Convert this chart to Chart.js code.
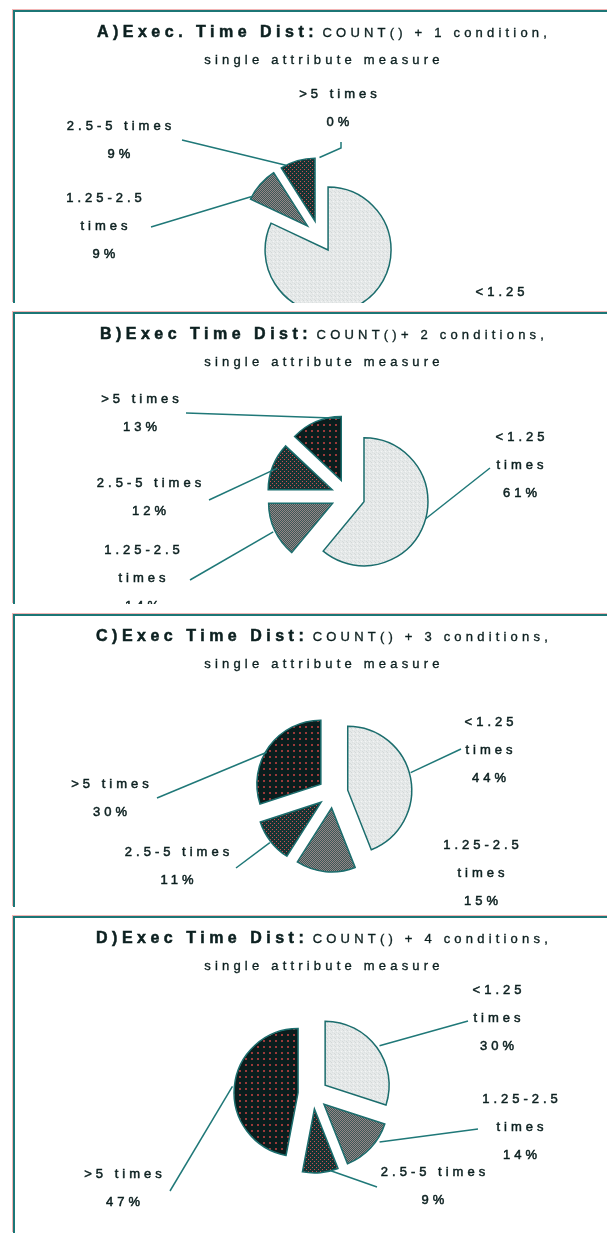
<!DOCTYPE html>
<html>
<head>
<meta charset="utf-8">
<title>Exec Time Dist</title>
<script src="https://cdn.jsdelivr.net/npm/chart.js@4.4.1/dist/chart.umd.min.js"></script>
<style>
  html, body { margin: 0; padding: 0; background: #fff; }
  body { width: 607px; height: 1233px; overflow: hidden; position: relative;
         font-family: "Liberation Sans", Arial, sans-serif; color: #0c2020; }
  .panel { position: absolute; left: 13px; width: 620px; box-sizing: border-box;
           border-top: 2px solid #1c7676; border-left: 2px solid #1c7676;
           box-shadow: -1px -1px 0 #f2b4b4; overflow: hidden; background: #fff; }
  .panel canvas { position: absolute; left: 0; top: 0; }
  .t1 { position: absolute; left: 0; right: 0; top: 10px; line-height: 20px; text-align: center; white-space: nowrap; }
  .t1 b { font-size: 16px; letter-spacing: 4.5px; -webkit-text-stroke: 0.5px #0c2020; }
  .t1 span { font-size: 13px; letter-spacing: 4.2px; -webkit-text-stroke: 0.35px #0c2020; }
  .t2 { position: absolute; left: 0; right: 0; top: 39px; line-height: 18px; font-size: 13px;
        letter-spacing: 4.2px; text-align: center; white-space: nowrap; -webkit-text-stroke: 0.35px #0c2020; }
</style>
</head>
<body>
<script>
// data
const categories = ['<1.25 times', '1.25-2.5 times', '2.5-5 times', '>5 times'];
const shareA = [82, 9, 9, 0];
const shareB = [61, 14, 12, 13];
const shareC = [44, 15, 11, 30];
const shareD = [30, 14, 9, 47];
const headings = ['A)Exec. Time Dist:', 'B)Exec Time Dist:', 'C)Exec Time Dist:', 'D)Exec Time Dist:'];
const queries = ['COUNT() + 1 condition,', 'COUNT()+ 2 conditions,', 'COUNT() + 3 conditions,', 'COUNT() + 4 conditions,'];
const subtitle = 'single attribute measure';

// layout (page coordinates)
const panels = [
  { values: shareA, top: 10, height: 293, cx: 319.5, cy: 236.5, r: 63, explode: 16, labels: [
    { slice: 0, wrap: true, x: 500, y: 292 },
    { slice: 1, wrap: true, x: 104, y: 198, from: [151, 227], t: 0.08, k: 1 },
    { slice: 2, wrap: false, x: 119, y: 126, from: [182, 140], t: 0.15, k: 1 },
    { slice: 3, wrap: false, x: 338, y: 94, from: [341, 142], via: [341, 148], t: 0, k: 1 }
  ]},
  { values: shareB, top: 312, height: 292, cx: 348, cy: 496, r: 64, explode: 17, labels: [
    { slice: 0, wrap: true, x: 520, y: 437, from: [490, 468], t: 0.48, k: 1 },
    { slice: 1, wrap: true, x: 142, y: 550, from: [190, 580], t: 0.49, k: 1.03 },
    { slice: 2, wrap: false, x: 149, y: 483, from: [209, 500], t: 0.5, k: 0.92 },
    { slice: 3, wrap: false, x: 140, y: 399, from: [186, 413], t: 0.97, k: 0.97 }
  ]},
  { values: shareC, top: 614, height: 293, cx: 333, cy: 793, r: 64, explode: 15, labels: [
    { slice: 0, wrap: true, x: 489, y: 722, from: [461, 749], t: 0.47, k: 1.02 },
    { slice: 1, wrap: true, x: 481, y: 845 },
    { slice: 2, wrap: false, x: 177, y: 852, from: [236, 868], t: 0.49, k: 1.02 },
    { slice: 3, wrap: false, x: 110, y: 784, from: [157, 798], t: 0.45, k: 0.98 }
  ]},
  { values: shareD, top: 916, height: 317, cx: 313, cy: 1094, r: 64, explode: 15, labels: [
    { slice: 0, wrap: true, x: 497, y: 990, from: [468, 1021], t: 0.5, k: 1.05 },
    { slice: 1, wrap: true, x: 520, y: 1099, from: [478, 1129], t: 0.32, k: 1.05 },
    { slice: 2, wrap: false, x: 433, y: 1172, from: [377, 1187], t: 0.21, k: 1 },
    { slice: 3, wrap: false, x: 123, y: 1174, from: [170, 1191], t: 0.5, k: 1.03 }
  ]}
];

// scanned-looking fill patterns
function tile(size, base, dots) {
  const c = document.createElement('canvas');
  c.width = c.height = size;
  const g = c.getContext('2d');
  g.fillStyle = base;
  g.fillRect(0, 0, size, size);
  dots.forEach(([x, y, w, h, col]) => { g.fillStyle = col; g.fillRect(x, y, w, h); });
  return g.createPattern(c, 'repeat');
}
const fills = [
  tile(4, '#e6e9e9', [[0, 0, 1, 1, '#d3d8d8'], [2, 1, 1, 1, '#f4f5f5'], [1, 2, 1, 1, '#dbe0e0'], [3, 3, 1, 1, '#d6dbdb']]),
  tile(2, '#948686', [[0, 0, 1, 1, '#3c5858'], [1, 1, 1, 1, '#3c5858']]),
  tile(4, '#163434', [[1, 1, 1, 1, '#c85050'], [3, 3, 1, 1, '#c85050']]),
  tile(6, '#0a1d1d', [[2, 2, 2, 2, '#9a3a3a']])
];

// push every slice out along its own mid angle
const explodePlugin = {
  id: 'explode',
  beforeDatasetsDraw(chart, args, opts) {
    const a = chart.chartArea;
    const cx = (a.left + a.right) / 2;
    const cy = (a.top + a.bottom) / 2;
    chart.getDatasetMeta(0).data.forEach(arc => {
      const mid = (arc.startAngle + arc.endAngle) / 2;
      arc.x = cx + Math.cos(mid) * opts.distance;
      arc.y = cy + Math.sin(mid) * opts.distance;
    });
  }
};

// category / percent labels with leader lines
const labelPlugin = {
  id: 'sliceLabels',
  afterDatasetsDraw(chart, args, opts) {
    const ctx = chart.ctx;
    const meta = chart.getDatasetMeta(0);
    const values = chart.data.datasets[0].data;
    ctx.save();
    opts.items.forEach(item => {
      const arc = meta.data[item.slice];
      if (item.from) {
        const ang = arc.startAngle + item.t * (arc.endAngle - arc.startAngle);
        const r = arc.outerRadius * item.k;
        ctx.strokeStyle = '#1f7878';
        ctx.lineWidth = 1.5;
        ctx.beginPath();
        ctx.moveTo(item.from[0] - opts.ox, item.from[1] - opts.oy);
        if (item.via) ctx.lineTo(item.via[0] - opts.ox, item.via[1] - opts.oy);
        ctx.lineTo(arc.x + Math.cos(ang) * r, arc.y + Math.sin(ang) * r);
        ctx.stroke();
      }
      const name = chart.data.labels[item.slice];
      const lines = item.wrap ? name.split(' ') : [name];
      lines.push(values[item.slice] + '%');
      ctx.fillStyle = '#0c2020';
      ctx.strokeStyle = '#0c2020';
      ctx.lineWidth = 0.5;
      ctx.font = '13px "Liberation Sans", Arial, sans-serif';
      ctx.letterSpacing = '4px';
      ctx.textAlign = 'center';
      ctx.textBaseline = 'middle';
      lines.forEach((s, j) => {
        const tx = item.x - opts.ox + 2, ty = item.y - opts.oy + j * 28;
        ctx.fillText(s, tx, ty);
        ctx.strokeText(s, tx, ty);
      });
    });
    ctx.restore();
  }
};

panels.forEach((p, i) => {
  const div = document.createElement('div');
  div.className = 'panel';
  div.style.top = p.top + 'px';
  div.style.height = p.height + 'px';
  div.innerHTML = '<div class="t1"><b></b> <span></span></div><div class="t2"></div>';
  div.querySelector('b').textContent = headings[i];
  div.querySelector('span').textContent = queries[i];
  div.querySelector('.t2').textContent = subtitle;

  const W = 618, H = p.height - 2;
  const ox = 15, oy = p.top + 2;
  const canvas = document.createElement('canvas');
  canvas.width = W;
  canvas.height = H;
  div.insertBefore(canvas, div.firstChild);
  document.body.appendChild(div);

  // place the chart area so its centre is the pie centre
  const cx = p.cx - ox, cy = p.cy - oy;
  const left = Math.max(0, 2 * cx - W), right = left + W - 2 * cx;
  const top = Math.max(0, 2 * cy - H), bottom = top + H - 2 * cy;

  new Chart(canvas, {
    type: 'pie',
    data: {
      labels: categories,
      datasets: [{
        data: p.values,
        backgroundColor: fills,
        borderColor: '#1b6d6d',
        borderWidth: 1.5,
        borderJoinStyle: 'miter',
        radius: p.r,
        clip: false
      }]
    },
    options: {
      responsive: false,
      animation: false,
      devicePixelRatio: 1,
      layout: { padding: { left, right, top, bottom } },
      plugins: {
        legend: { display: false },
        tooltip: { enabled: false },
        explode: { distance: p.explode },
        sliceLabels: { items: p.labels, ox, oy }
      }
    },
    plugins: [explodePlugin, labelPlugin]
  });
});
</script>
</body>
</html>
